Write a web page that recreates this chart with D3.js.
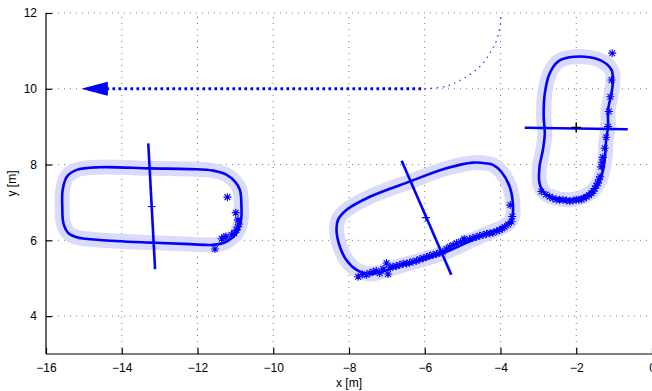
<!DOCTYPE html>
<html><head><meta charset="utf-8">
<script src="https://cdn.jsdelivr.net/npm/d3@7"></script>
<style>body{margin:0;background:#fff}svg{display:block}text{font-family:"Liberation Sans",Arial,Helvetica,sans-serif}</style>
</head><body><svg id="c" width="652" height="391"></svg>
<script>
const xTicks=[-16,-14,-12,-10,-8,-6,-4,-2,0];
const yTicks=[4,6,8,10,12];
const xLabel="x [m]", yLabel="y [m]";

// start trajectory
const pathStraight=[[-14.4,10],[-6.0,10]];
const pathCurve=[[-6.0,10],[-5.42,10.07],[-5.0,10.26],[-4.55,10.58],[-4.28,10.94],[-4.10,11.29],[-3.99,11.82],[-4.0,12]];
const arrowHead=[[-15.02,10],[-14.38,10.17],[-14.38,9.83]];

// loop 1 (left)
const loop1=[[-11.59,5.88],[-11.23,5.97],[-10.97,6.19],[-10.85,6.54],[-10.84,6.89],[-10.88,7.33],[-11.01,7.55],[-11.23,7.73],[-11.59,7.84],[-12.20,7.88],[-13.26,7.90],[-14.58,7.93],[-15.19,7.86],[-15.45,7.68],[-15.56,7.33],[-15.57,6.89],[-15.54,6.45],[-15.41,6.19],[-15.19,6.08],[-14.58,6.01],[-13.26,5.94],[-12.20,5.90],[-11.59,5.88]];
const axis1=[[-13.30,8.56],[-13.12,5.24]];
const center1=[-13.21,6.89];
const stars1=[[-11.21,7.14],[-10.99,6.73],[-10.93,6.54],[-10.90,6.43],[-10.94,6.35],[-10.97,6.27],[-11.03,6.19],[-11.25,6.10],[-11.36,6.04],[-11.30,6.08],[-11.10,6.14],[-11.54,5.77]];

// loop 2 (middle)
const loop2=[[-4.37,8.03],[-4.73,8.05],[-5.43,7.90],[-6.40,7.55],[-7.45,7.15],[-8.07,6.80],[-8.29,6.54],[-8.33,6.27],[-8.24,5.83],[-8.07,5.48],[-7.80,5.22],[-7.45,5.11],[-6.57,5.35],[-5.52,5.66],[-4.55,6.10],[-3.93,6.36],[-3.71,6.54],[-3.67,6.89],[-3.76,7.42],[-3.98,7.81],[-4.20,7.99],[-4.37,8.03]];
const axis2=[[-6.61,8.10],[-5.30,5.09]];
const center2=[-5.97,6.60];
const stars2=[[-3.74,6.93],[-3.69,6.63],[-3.71,6.49],[-3.80,6.42],[-3.89,6.35],[-3.95,6.31],[-4.02,6.27],[-4.10,6.24],[-4.20,6.20],[-4.28,6.19],[-4.37,6.17],[-4.46,6.14],[-4.55,6.12],[-4.64,6.09],[-4.73,6.06],[-4.82,6.03],[-4.96,6.04],[-4.95,5.99],[-5.05,5.96],[-5.16,5.92],[-5.25,5.87],[-5.34,5.83],[-5.43,5.77],[-5.52,5.70],[-5.60,5.67],[-5.69,5.64],[-5.78,5.62],[-5.87,5.59],[-5.95,5.56],[-6.04,5.53],[-6.13,5.50],[-6.22,5.46],[-6.31,5.44],[-6.40,5.41],[-6.48,5.39],[-6.57,5.38],[-6.66,5.35],[-6.75,5.32],[-6.84,5.30],[-6.92,5.29],[-7.01,5.40],[-6.97,5.11],[-7.10,5.24],[-7.19,5.13],[-7.28,5.20],[-7.36,5.17],[-7.45,5.14],[-7.54,5.09],[-7.65,5.10],[-7.76,5.04]];

// loop 3 (right)
const loop3=[[-2.17,10.83],[-1.65,10.83],[-1.30,10.72],[-1.07,10.50],[-1.03,10.23],[-1.07,9.88],[-1.16,9.44],[-1.16,9.00],[-1.21,8.65],[-1.25,8.12],[-1.34,7.68],[-1.51,7.37],[-1.82,7.15],[-2.17,7.07],[-2.53,7.11],[-2.83,7.24],[-2.97,7.51],[-2.97,7.94],[-2.88,8.39],[-2.83,8.83],[-2.86,9.26],[-2.83,9.88],[-2.70,10.41],[-2.48,10.72],[-2.17,10.83]];
const axis3=[[-3.36,8.97],[-0.64,8.93]];
const center3=[-2.0,8.98];
const stars3=[[-1.05,10.94],[-1.07,10.23],[-1.10,9.79],[-1.14,9.40],[-1.16,9.00],[-1.21,8.72],[-1.25,8.43],[-1.30,8.19],[-1.32,8.06],[-1.34,7.94],[-1.37,7.68],[-1.40,7.60],[-1.43,7.51],[-1.47,7.44],[-1.51,7.37],[-1.55,7.30],[-1.60,7.24],[-1.66,7.19],[-1.73,7.15],[-1.80,7.11],[-1.86,7.08],[-1.93,7.07],[-2.0,7.07],[-2.08,7.05],[-2.17,7.04],[-2.26,7.05],[-2.35,7.07],[-2.44,7.07],[-2.53,7.08],[-2.62,7.11],[-2.70,7.15],[-2.80,7.21],[-2.92,7.29]];

const W=652,H=391, L=46, R=652, T=13, B=354;
const svg=d3.select("#c");
const x=d3.scaleLinear().domain([-16,0]).range([L,R]);
const y=d3.scaleLinear().domain([3,12]).range([B,T]);
const line=d3.line().x(d=>x(d[0])).y(d=>y(d[1]));
const blue="#0000ff", halo="#dadafa";

// grid
const g=svg.append("g");
xTicks.filter(v=>v>-16&&v<0).forEach(v=>g.append("line").attr("x1",x(v)).attr("x2",x(v)).attr("y1",B).attr("y2",T).attr("stroke","#777").attr("stroke-width",1).attr("stroke-dasharray","1,5"));
yTicks.forEach(v=>g.append("line").attr("x1",L).attr("x2",R).attr("y1",y(v)).attr("y2",y(v)).attr("stroke","#777").attr("stroke-width",1).attr("stroke-dasharray","1,5"));

// halos
[loop1,loop2,loop3].forEach(l=>svg.append("path").attr("d",line.curve(d3.curveCatmullRomClosed)(l.slice(0,-1))).attr("fill","none").attr("stroke",halo).attr("stroke-width",15).attr("stroke-linejoin","round"));
// loops
[loop1,loop2,loop3].forEach(l=>svg.append("path").attr("d",line.curve(d3.curveCatmullRomClosed)(l.slice(0,-1))).attr("fill","none").attr("stroke",blue).attr("stroke-width",2.6).attr("stroke-linejoin","round"));
line.curve(d3.curveLinear);

// trajectory
svg.append("path").attr("d",line(pathStraight)).attr("fill","none").attr("stroke",blue).attr("stroke-width",3).attr("stroke-dasharray","2.5,3.5");
svg.append("path").attr("d",d3.line().x(d=>x(d[0])).y(d=>y(d[1])).curve(d3.curveCatmullRom)(pathCurve)).attr("fill","none").attr("stroke","#3a3aff").attr("stroke-width",1.3).attr("stroke-dasharray","1.5,4.5");
svg.append("path").attr("d",line(arrowHead)+"Z").attr("fill",blue).attr("stroke",blue).attr("stroke-width",1);

// stars
const starPath=(cx,cy,r)=>{const a=r*0.72;return `M${cx-r},${cy}L${cx+r},${cy}M${cx},${cy-r}L${cx},${cy+r}M${cx-a},${cy-a}L${cx+a},${cy+a}M${cx-a},${cy+a}L${cx+a},${cy-a}`;};
[stars1,stars2,stars3].forEach(s=>s.forEach(d=>svg.append("path").attr("d",starPath(x(d[0]),y(d[1]),4)).attr("stroke",blue).attr("stroke-width",1.1).attr("fill","none")));

// axes lines
[axis1,axis2,axis3].forEach(a=>svg.append("path").attr("d",line(a)).attr("stroke",blue).attr("stroke-width",2.6).attr("fill","none"));
// centers
const plus=(c,s,col,w)=>svg.append("path").attr("d",`M${x(c[0])-s},${y(c[1])}L${x(c[0])+s},${y(c[1])}M${x(c[0])},${y(c[1])-s}L${x(c[0])},${y(c[1])+s}`).attr("stroke",col).attr("stroke-width",w);
plus(center1,4,blue,1);
plus(center2,4,blue,1.2);
plus(center3,5,"#000",1.5);

// axes
const ax=svg.append("g").attr("transform",`translate(0,${B})`).call(d3.axisBottom(x).tickValues(xTicks).tickSize(-6).tickPadding(9).tickFormat(d=>d<0?"\u2212"+(-d):d));
const ay=svg.append("g").attr("transform",`translate(${L},0)`).call(d3.axisLeft(y).tickValues(yTicks).tickSize(-6).tickPadding(9));
[ax,ay].forEach(a=>{a.select(".domain").attr("stroke","#000").attr("stroke-width",1.2);a.selectAll(".tick line").attr("stroke","#000").attr("stroke-width",1.2);a.selectAll("text").attr("font-size",12).attr("fill","#000").attr("font-family","'Liberation Sans',Arial,sans-serif");});
ax.select(".domain").attr("d",`M${L},0H${R}`);
ay.select(".domain").attr("d",`M0,${B}V${T}`);

svg.append("text").attr("x",(L+R)/2).attr("y",387).attr("text-anchor","middle").attr("font-size",12).text(xLabel);
svg.append("text").attr("transform",`translate(16,${(T+B)/2}) rotate(-90)`).attr("text-anchor","middle").attr("font-size",12).text(yLabel);
</script></body></html>
